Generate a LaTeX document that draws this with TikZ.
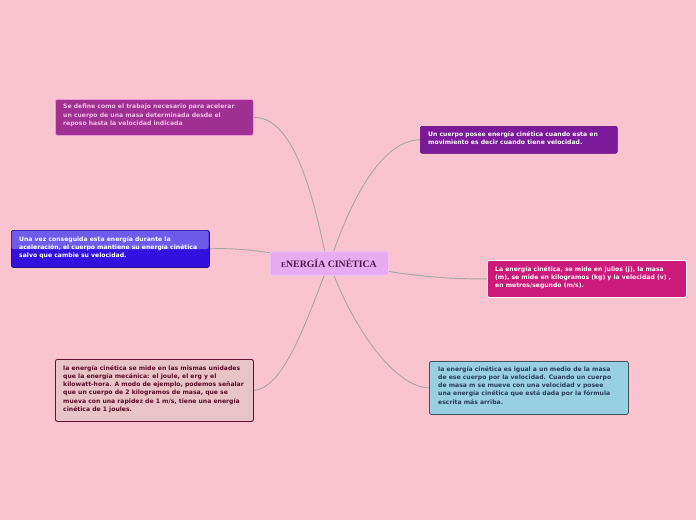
\documentclass[tikz,border=0pt]{standalone}
\usepackage{fontspec}
\setmainfont{Liberation Serif}
\setsansfont{DejaVu Sans}
\pgfdeclarelayer{bgl}\pgfdeclarelayer{lkl}\pgfsetlayers{bgl,lkl,main}
\definecolor{pinkbg}{RGB}{249,196,207}
\definecolor{ca}{RGB}{160,48,145}
\definecolor{cat}{RGB}{245,190,235}
\definecolor{cab}{RGB}{240,150,220}
\definecolor{cb}{RGB}{50,16,224}
\definecolor{cbb}{RGB}{40,10,140}
\definecolor{cbt}{RGB}{110,90,235}
\definecolor{cc}{RGB}{232,170,240}
\definecolor{ccb}{RGB}{240,200,245}
\definecolor{cct}{RGB}{80,20,80}
\definecolor{cd}{RGB}{122,26,154}
\definecolor{cdb}{RGB}{90,10,120}
\definecolor{ce}{RGB}{204,26,120}
\definecolor{cf}{RGB}{232,196,200}
\definecolor{cfb}{RGB}{100,16,48}
\definecolor{cft}{RGB}{90,10,40}
\definecolor{cg}{RGB}{152,208,224}
\definecolor{cgb}{RGB}{70,80,90}
\definecolor{cgt}{RGB}{40,60,90}
\begin{document}
\begin{tikzpicture}[x=1pt,y=-1pt,
 box/.style={rectangle,rounded corners=2pt,anchor=north west,inner sep=0pt},
 txt/.style={anchor=north west,align=left,inner sep=0pt,font=\sffamily\bfseries\fontsize{6.1}{8.3}\selectfont},
 link/.style={draw=gray!70,line width=0.9pt}]
\begin{pgfonlayer}{bgl}
\fill[pinkbg] (0,0) rectangle (696,520);
\end{pgfonlayer}
\useasboundingbox (0,0) rectangle (696,520);
% boxes
\node[box,fill=ca,draw=cab,line width=0.8pt,minimum width=198pt,minimum height=36pt] (A) at (55,99) {};
\node[txt,text=cat] at (63,104) {Se define como el trabajo necesario para acelerar\\un cuerpo de una masa determinada desde el\\reposo hasta la velocidad indicada};
\node[box,fill=cb,draw=cbb,line width=0.8pt,minimum width=198pt,minimum height=37pt] (B) at (11,230) {};
\fill[cbt,rounded corners=2pt] (11.5,230.5) rectangle (208.5,249);
\node[txt,text=white] at (19,236) {Una vez conseguida esta energía durante la\\aceleración, el cuerpo mantiene su energía cinética\\salvo que cambie su velocidad.};
\node[box,fill=cd,draw=cdb,line width=0.6pt,minimum width=197pt,minimum height=27pt] (D) at (420,126) {};
\node[txt,text=white] at (428,131) {Un cuerpo posee energía cinética cuando esta en\\movimiento es decir cuando tiene velocidad.};
\node[box,fill=ce,draw=white,line width=0.8pt,minimum width=199pt,minimum height=37pt] (E) at (487,260) {};
\node[txt,text=white] at (495,266) {La energía cinética, se mide en julios (j), la masa\\(m), se mide en kilogramos (kg) y la velocidad (v) ,\\en metros/segundo (m/s).};
\node[box,fill=cf,draw=cfb,line width=0.9pt,minimum width=198pt,minimum height=62pt] (F) at (55,359) {};
\node[txt,text=cft] at (63,365) {la energía cinética se mide en las mismas unidades\\que la energía mecánica: el joule, el erg y el\\kilowatt-hora. A modo de ejemplo, podemos señalar\\que un cuerpo de 2 kilogramos de masa, que se\\mueva con una rapidez de 1 m/s, tiene una energía\\cinética de 1 joules.};
\node[box,fill=cg,draw=cgb,line width=0.8pt,minimum width=199pt,minimum height=53pt] (G) at (429,361) {};
\node[txt,text=cgt] at (438,366) {la energía cinética es igual a un medio de la masa\\de ese cuerpo por la velocidad. Cuando un cuerpo\\de masa m se mueve con una velocidad v posee\\una energía cinética que está dada por la fórmula\\escrita más arriba.};
% center
\node[box,fill=cc,draw=ccb,line width=0.6pt,minimum width=118pt,minimum height=24pt] (C) at (270,251) {};
\node[text=cct,font=\bfseries\fontsize{9.8}{11}\selectfont] (CT) at (329,263.5) {{\fontsize{7.5}{8}\selectfont E}NERGÍA CINÉTICA};
% links
\coordinate (ca) at (325,253); \coordinate (cd) at (333,253);
\coordinate (cb) at (272,253); \coordinate (ce) at (386,271);
\coordinate (cf) at (325,273); \coordinate (cg) at (333,273);
\begin{pgfonlayer}{lkl}
\draw[link] (ca) .. controls (310,180) and (290,117) .. (A.east);
\draw[link] (cb) .. controls (245,249) and (225,248) .. (B.east);
\draw[link] (cd) .. controls (355,190) and (385,140) .. (D.west);
\draw[link] (ce) .. controls (430,278) and (460,279) .. (E.west);
\draw[link] (cf) .. controls (300,340) and (280,388) .. (F.east);
\draw[link] (cg) .. controls (355,330) and (395,387) .. (G.west);
\end{pgfonlayer}
\end{tikzpicture}
\end{document}
